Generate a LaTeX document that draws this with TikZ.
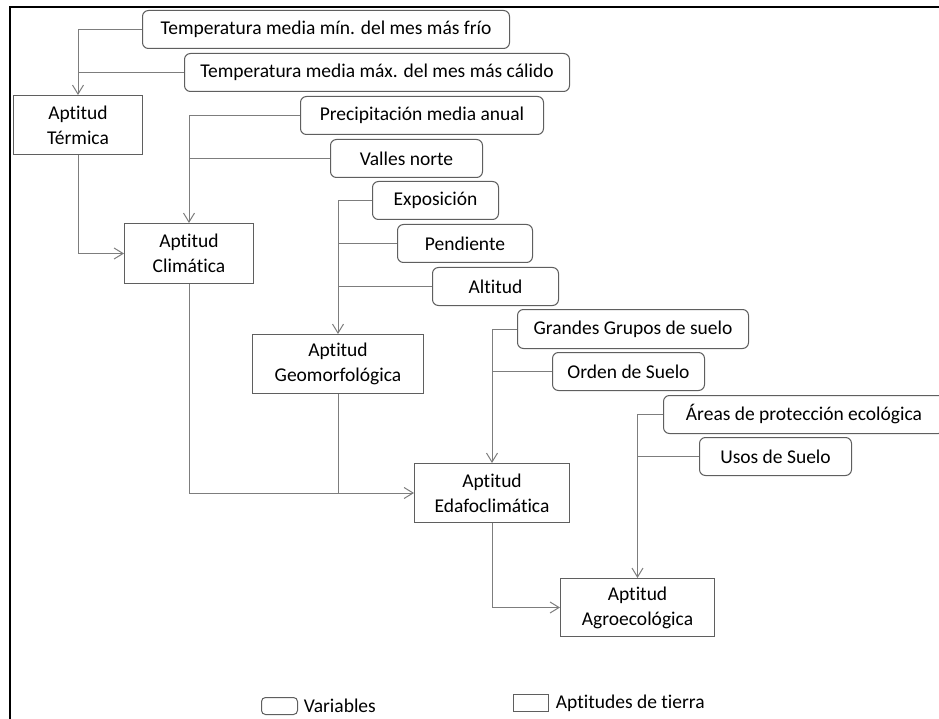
\documentclass[tikz,border=0pt]{standalone}
\usepackage{fontspec}
\setmainfont{Carlito}[Ligatures=NoCommon]
\usetikzlibrary{calc,
arrows.meta,
positioning}
\definecolor{linegray}{RGB}{125,125,125}
\definecolor{boxgray}{RGB}{95,95,95}

\begin{document}
\begin{tikzpicture} [x=1pt, y=-1pt,
    -{Straight Barb[length=9pt,width=11pt]},
    line width=1pt,
    color=linegray,
    every node/.style={text=black, font={\fontsize{19.5}{25}\selectfont}},
    var node/.style={rectangle, rounded corners=6pt, draw=boxgray, fill=white,
        inner sep=0pt, minimum height=38pt, anchor=north west, align=center},
    apt node/.style={rectangle, draw=boxgray, fill=white,
        inner sep=0pt, minimum height=59pt, anchor=north west, align=center}
  ]

  \useasboundingbox (0,0) rectangle (939,719);
  \clip (0,0) rectangle (939,719);
  \draw [-, black, line width=2pt] (10,7) rectangle (980,760);

  \node [var node, minimum width=367pt] (tmin)   at (142,10)  {Temperatura media mín. del mes más frío};
  \node [var node, minimum width=385pt] (tmax)   at (184,53)  {Temperatura media máx. del mes más cálido};
  \node [var node, minimum width=243pt] (prec)   at (300,96)  {Precipitación media anual};
  \node [var node, minimum width=152pt] (valles) at (330,139) {Valles norte};
  \node [var node, minimum width=126pt] (expo)   at (372,181) {Exposición};
  \node [var node, minimum width=135pt] (pend)   at (397,224) {Pendiente};
  \node [var node, minimum width=126pt] (alt)    at (432,267) {Altitud};
  \node [var node, minimum width=231pt,
    minimum height=39pt
  ] (grupos) at (517,309) {Grandes Grupos de suelo};
  \node [var node, minimum width=152pt] (orden)  at (552,352) {Orden de Suelo};
  \node [var node, minimum width=281pt] (areas)  at (663,395) {Áreas de protección ecológica};
  \node [var node, minimum width=152pt] (usos)   at (699,437) {Usos de Suelo};

  \node [apt node, minimum width=129pt] (term) at (13,95) {Aptitud\\Térmica};
  \node [apt node,
    minimum width=129pt,
    minimum height=60pt
  ] (clim) at (124,223) {Aptitud\\Climática};
  \node [apt node, minimum width=171pt] (geo)   at (252,334) {Aptitud\\Geomorfológica};
  \node [apt node, minimum width=155pt] (edafo) at (414,463) {Aptitud\\Edafoclimática};
  \node [apt node,
    minimum width=154pt,
    minimum height=58pt
  ] (agro) at (560,578) {Aptitud\\Agroecológica};

  \draw (tmin.west) -| (term.north);
  \draw [-] (tmax.west) -- (tmax.west -| term.north);
  \draw (prec.west) -| (clim.north);
  \draw [-] (valles.west) -- (valles.west -| clim.north);
  \draw (term.south) |- (clim.west);

  \draw (expo.west) -| (geo.north);
  \draw [-] (pend.west) -- (pend.west -| geo.north);
  \draw [-] (alt.west) -- (alt.west -| geo.north);

  \draw (clim.south) |- (edafo.west);
  \draw [-] (geo.south) -- (geo.south |- edafo.west);
  \draw (grupos.west) -| (edafo.north);
  \draw [-] (orden.west) -- (orden.west -| edafo.north);

  \draw (areas.west) -| (agro.north);
  \draw [-] (usos.west) -- (usos.west -| agro.north);
  \draw (edafo.south) |- (agro.west);

  \node [var node,
    rounded corners=4pt,
    minimum width=36pt,
    minimum height=17pt
  ] (legvar) at (261,697) {};
  \node [right=2pt of legvar] (legvartext) {Variables};
  \node [apt node,
    minimum width=35pt,
    minimum height=17pt
  ] (legapt) at (513,694) {};
  \node [right=3pt of legapt] (legapttext) {Aptitudes de tierra};

\end{tikzpicture}
\end{document}
